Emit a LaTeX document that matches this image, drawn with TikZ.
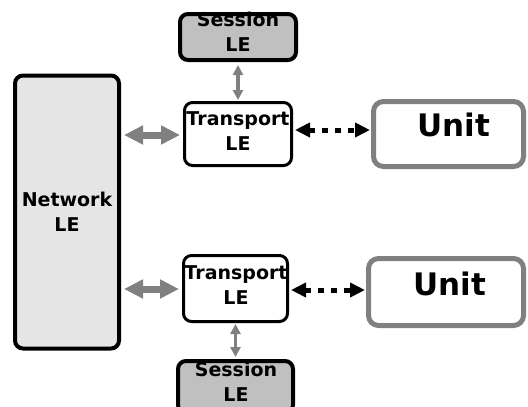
\documentclass[tikz,border=0pt]{standalone}
\usepackage{fontspec}
\setmainfont{DejaVu Sans}
\usetikzlibrary{arrows.meta}
\definecolor{netfill}{HTML}{E5E5E5}
\definecolor{sessfill}{HTML}{C0C0C0}
\definecolor{arrgray}{HTML}{808080}
\begin{document}
\begin{tikzpicture}[x=1pt,y=-1pt,
  lefont/.style={font=\fontsize{19}{25}\selectfont\bfseries},
  box/.style={draw=black,rounded corners=8pt,inner sep=0pt,align=center,lefont},
  lbl/.style={lefont,align=center,inner sep=0pt},
  netbox/.style={box,fill=netfill,line width=4pt},
  sessbox/.style={box,fill=sessfill,line width=4pt},
  transbox/.style={box,fill=white,line width=3pt},
  unitbox/.style={draw=arrgray,rounded corners=10pt,fill=white,line width=5pt,inner sep=0pt},
  unitlbl/.style={font=\fontsize{31}{34}\selectfont\bfseries,inner sep=0pt},
  bigarr/.style={draw=arrgray,line width=7pt,
    {Triangle[length=19pt,width=18pt]}-{Triangle[length=19pt,width=18pt]}},
  smallarr/.style={draw=arrgray,line width=3.5pt,
    {Triangle[length=10pt,width=10pt]}-{Triangle[length=10pt,width=10pt]}},
  dotarr/.style={draw=black,line width=5pt,dash pattern=on 6pt off 7pt,
    {Triangle[length=15pt,width=14pt]}-{Triangle[length=15pt,width=14pt]}}
]
\useasboundingbox (0,0) rectangle (528,407);
\fill[white] (0,0) rectangle (528,407);

\node[netbox,minimum width=104pt,minimum height=273pt] (net) at (67,212) {Network\\LE};

\node[sessbox,minimum width=116pt,minimum height=46pt] (s1) at (238,37) {};
\node[lbl] (s1t) at (238,32) {Session\\LE};
\node[transbox,minimum width=107pt,minimum height=63pt] (t1) at (238,134) {};
\node[lbl] (t1t) at (238,131) {Transport\\LE};
\node[unitbox,minimum width=150pt,minimum height=65pt] (u1) at (448.5,134) {};
\node[unitlbl] (u1t) at (454,125) {Unit};

\node[transbox,minimum width=104pt,minimum height=66pt] (t2) at (235.5,288.5) {};
\node[lbl] (t2t) at (236,285) {Transport\\LE};
\node[unitbox,minimum width=155pt,minimum height=67pt] (u2) at (446,292) {};
\node[unitlbl] (u2t) at (450,284) {Unit};
\node[sessbox,minimum width=115pt,minimum height=52pt] (s2) at (235.5,387) {};
\node[lbl] (s2t) at (236,382) {Session\\LE};

\draw[bigarr,shorten <=3pt,shorten >=3pt] (net.east |- 0,135) -- (t1.west |- 0,135);
\draw[bigarr,shorten <=3pt,shorten >=3pt] (net.east |- 0,289) -- (t2.west |- 0,289);
\draw[smallarr,shorten <=3pt,shorten >=1pt] (s1.south) -- (t1.north);
\draw[smallarr,shorten <=1pt,shorten >=2pt] (t2.south) -- (s2.north);
\draw[dotarr,shorten <=2pt,shorten >=1pt] (t1.east |- 0,130) -- (u1.west |- 0,130);
\draw[dotarr,shorten <=2pt,shorten >=1pt] (t2.east |- 0,290) -- (u2.west |- 0,290);
\end{tikzpicture}
\end{document}
